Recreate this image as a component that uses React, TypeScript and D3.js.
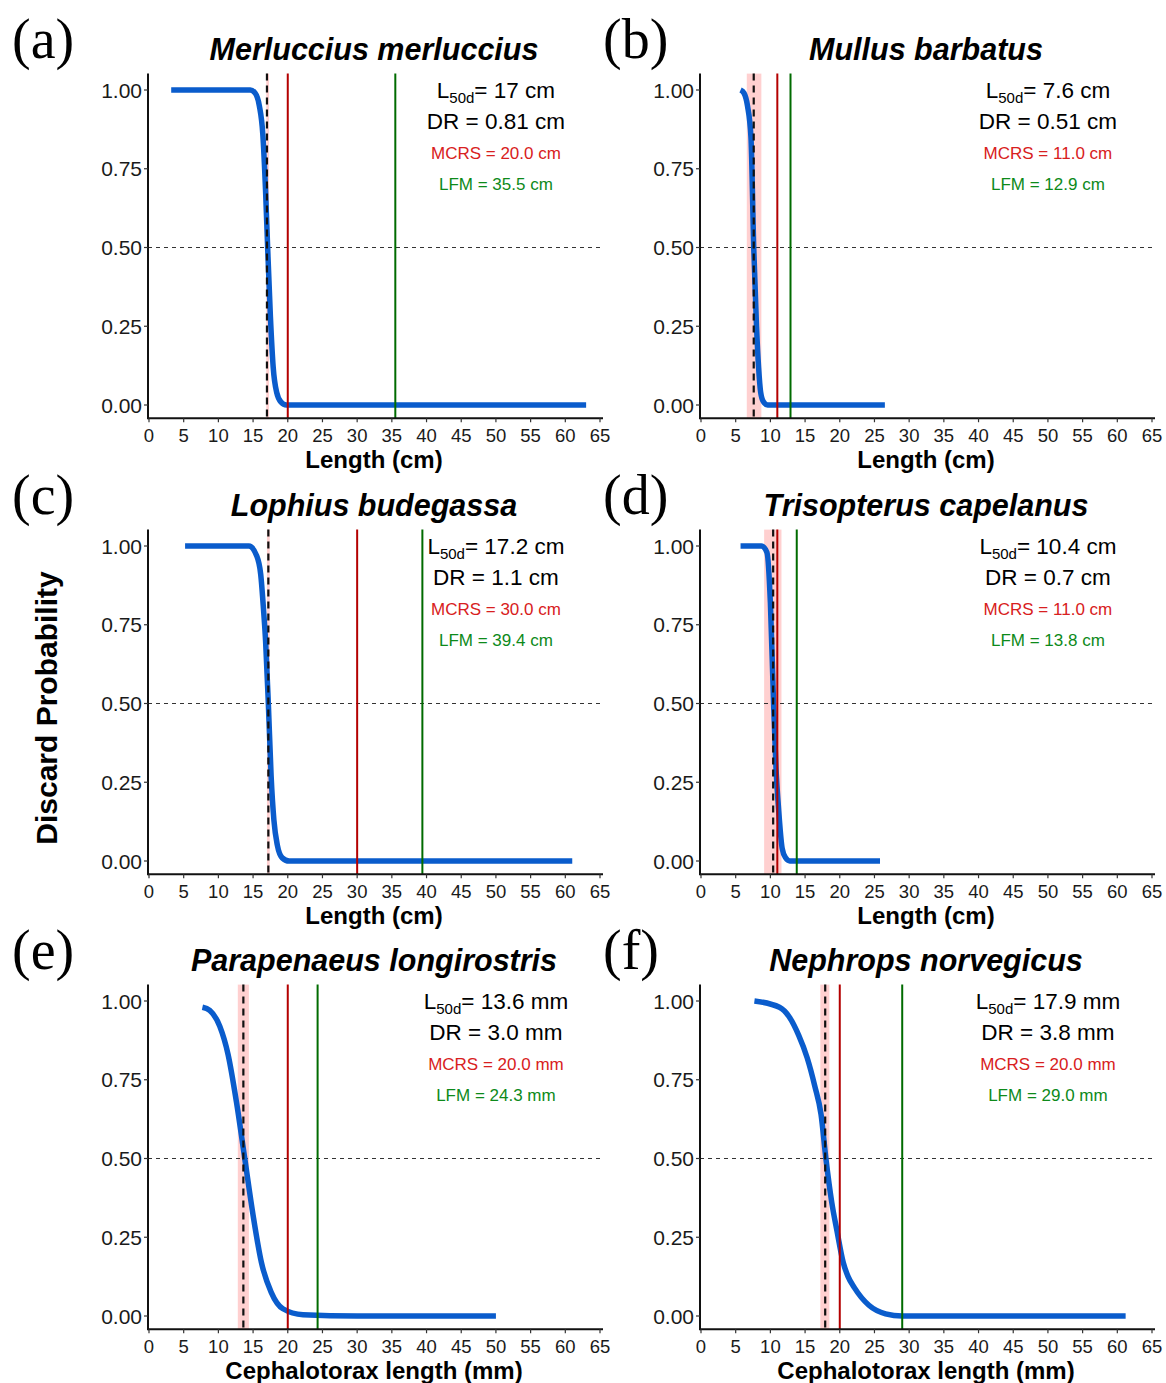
import React from 'react';
import * as d3 from 'd3';

// panel meta
const panelLetters = ['(a)', '(b)', '(c)', '(d)', '(e)', '(f)'];
const speciesNames = [
  'Merluccius merluccius',
  'Mullus barbatus',
  'Lophius budegassa',
  'Trisopterus capelanus',
  'Parapenaeus longirostris',
  'Nephrops norvegicus',
];
const lengthUnits = ['cm', 'cm', 'cm', 'cm', 'mm', 'mm'];
const xAxisTitles = [
  'Length (cm)', 'Length (cm)', 'Length (cm)', 'Length (cm)',
  'Cephalotorax length (mm)', 'Cephalotorax length (mm)',
];
const l50Labels = ['17', '7.6', '17.2', '10.4', '13.6', '17.9'];
const drLabels = ['0.81', '0.51', '1.1', '0.7', '3.0', '3.8'];
const mcrsLabels = ['20.0', '11.0', '30.0', '11.0', '20.0', '20.0'];
const lfmLabels = ['35.5', '12.9', '39.4', '13.8', '24.3', '29.0'];
const ciLower = [16.9, 6.6, 17.0, 9.1, 12.8, 17.2];
const ciUpper = [17.3, 8.7, 17.4, 11.6, 14.4, 18.5];

// discard ogives: [length, probability]
const merlucciusCurve = [
  [3.2, 1], [8, 1], [14.6, 1], [15.3, 0.99], [15.9, 0.95], [16.4, 0.86], [16.8, 0.68],
  [17.1, 0.5], [17.5, 0.28], [17.9, 0.12], [18.4, 0.04], [19, 0.01], [19.8, 0], [30, 0], [45, 0], [63, 0],
];
const mullusCurve = [
  [5.7, 1], [6.2, 0.99], [6.7, 0.95], [7.2, 0.85], [7.6, 0.5], [8.0, 0.25], [8.3, 0.12],
  [8.6, 0.04], [9.0, 0.01], [9.6, 0], [15, 0], [26.5, 0],
];
const lophiusCurve = [
  [5.2, 1], [10, 1], [14.4, 1], [15.5, 0.97], [16.1, 0.91], [16.5, 0.8], [16.8, 0.7], [17.2, 0.5],
  [17.6, 0.27], [18, 0.13], [18.5, 0.05], [19.2, 0.01], [20.2, 0], [40, 0], [61, 0],
];
const trisopterusCurve = [
  [5.7, 1], [8.7, 1], [9.5, 0.98], [10, 0.82], [10.46, 0.5], [10.8, 0.3], [11.2, 0.16],
  [11.7, 0.04], [12.2, 0.01], [12.8, 0], [20, 0], [25.8, 0],
];
const parapenaeusCurve = [
  [7.7, 0.98], [8.75, 0.97], [10.2, 0.92], [11.4, 0.83], [12.6, 0.68], [13.8, 0.5], [15, 0.32],
  [16.2, 0.17], [17.6, 0.076], [19.3, 0.023], [22.2, 0.004], [30, 0], [50, 0],
];
const nephropsCurve = [
  [7.7, 1], [11.3, 0.98], [12.7, 0.95], [14.1, 0.89], [15.3, 0.82], [16.4, 0.73], [17.3, 0.64],
  [18.0, 0.5], [18.85, 0.36], [19.6, 0.27], [20.5, 0.17], [21.2, 0.125], [22.1, 0.09], [24.2, 0.034],
  [26.6, 0.007], [29, 0], [45, 0], [61.2, 0],
];
const curves = [merlucciusCurve, mullusCurve, lophiusCurve, trisopterusCurve, parapenaeusCurve, nephropsCurve];

const xTicks = d3.range(0, 66, 5);
const yTicks = [0, 0.25, 0.5, 0.75, 1];

const SANS = '"Liberation Sans", Arial, sans-serif';
const colLeft = [148, 700];
const letterLeft = [12, 603];
const rowTop = [90, 546, 1001];
const plotW = 452;
const plotH = 315;

function Panel({ i }: { i: number }) {
  const left = colLeft[i % 2];
  const top = rowTop[Math.floor(i / 2)];
  const x = d3.scaleLinear().domain([0, 65]).range([left + 1, left + plotW]);
  const y = d3.scaleLinear().domain([0, 1]).range([top + plotH, top]);
  const yBottom = y(-0.042);
  const yTop = y(1.052);

  const line = d3.line<number[]>()
    .curve(d3.curveMonotoneX)
    .x((d) => x(d[0]))
    .y((d) => y(d[1]));

  const u = lengthUnits[i];
  const tx = x(50);

  return (
    <g>
      <text x={letterLeft[i % 2]} y={top - 32} fontFamily='"Liberation Serif", "Times New Roman", serif' fontSize={56}>
        {panelLetters[i]}
      </text>
      <text x={(left + left + plotW) / 2} y={top - 30} textAnchor="middle" fontFamily={SANS}
        fontWeight="bold" fontStyle="italic" fontSize={30.5}>
        {speciesNames[i]}
      </text>

      {/* CI band around L50 */}
      <rect x={x(ciLower[i])} y={yTop} width={x(ciUpper[i]) - x(ciLower[i])} height={yBottom - yTop}
        fill="#ffc8c8" opacity={0.85} />

      <line x1={left} x2={left + plotW} y1={y(0.5)} y2={y(0.5)} stroke="#333" strokeWidth={1.1}
        strokeDasharray="4,4" />

      <path d={line(curves[i] as number[][]) || ''} fill="none" stroke="#0a5ccc" strokeWidth={5.5} />

      <line x1={x(+mcrsLabels[i])} x2={x(+mcrsLabels[i])} y1={yTop} y2={yBottom} stroke="#b40000" strokeWidth={2} />
      <line x1={x(+lfmLabels[i])} x2={x(+lfmLabels[i])} y1={yTop} y2={yBottom} stroke="#006b00" strokeWidth={2} />
      <line x1={x(+l50Labels[i])} x2={x(+l50Labels[i])} y1={yTop} y2={yBottom} stroke="#111" strokeWidth={2.2}
        strokeDasharray="7,5" />

      {/* axes */}
      <line x1={left} x2={left} y1={yTop} y2={yBottom + 1} stroke="#111" strokeWidth={2} />
      <line x1={left} x2={left + plotW + 3} y1={yBottom} y2={yBottom} stroke="#111" strokeWidth={2} />
      {yTicks.map((t) => (
        <g key={t}>
          <line x1={left - 4} x2={left} y1={y(t)} y2={y(t)} stroke="#333" strokeWidth={1.2} />
          <text x={left - 6} y={y(t)} dy="0.36em" textAnchor="end" fontFamily={SANS} fontSize={21} fill="#1a1a1a">
            {t.toFixed(2)}
          </text>
        </g>
      ))}
      {xTicks.map((t) => (
        <g key={t}>
          <line x1={x(t)} x2={x(t)} y1={yBottom} y2={yBottom + 4} stroke="#333" strokeWidth={1.2} />
          <text x={x(t)} y={yBottom + 24} textAnchor="middle" fontFamily={SANS} fontSize={18.5} fill="#1a1a1a">
            {t}
          </text>
        </g>
      ))}
      <text x={(left + left + plotW) / 2} y={yBottom + 50} textAnchor="middle" fontFamily={SANS}
        fontWeight="bold" fontSize={24}>
        {xAxisTitles[i]}
      </text>

      {/* annotations */}
      <text x={tx} y={y(1.0)} dy="0.35em" textAnchor="middle" fontFamily={SANS} fontSize={22.5}>
        L<tspan fontSize={15} dy={5}>50d</tspan><tspan dy={-5}>{`= ${l50Labels[i]} ${u}`}</tspan>
      </text>
      <text x={tx} y={y(0.9)} dy="0.35em" textAnchor="middle" fontFamily={SANS} fontSize={22.5}>
        {`DR = ${drLabels[i]} ${u}`}
      </text>
      <text x={tx} y={y(0.8)} dy="0.35em" textAnchor="middle" fontFamily={SANS} fontSize={17} fill="#d82020">
        {`MCRS = ${mcrsLabels[i]} ${u}`}
      </text>
      <text x={tx} y={y(0.7)} dy="0.35em" textAnchor="middle" fontFamily={SANS} fontSize={17} fill="#0d8a1a">
        {`LFM = ${lfmLabels[i]} ${u}`}
      </text>
    </g>
  );
}

export default function App() {
  return (
    <svg width={1166} height={1383} style={{ position: 'absolute', left: 0, top: 0, background: '#fff' }}>
      <rect width={1166} height={1383} fill="#fff" />
      {speciesNames.map((_, i) => <Panel key={i} i={i} />)}
      <text transform="translate(57,708) rotate(-90)" textAnchor="middle" fontFamily={SANS}
        fontWeight="bold" fontSize={30}>
        Discard Probability
      </text>
    </svg>
  );
}
